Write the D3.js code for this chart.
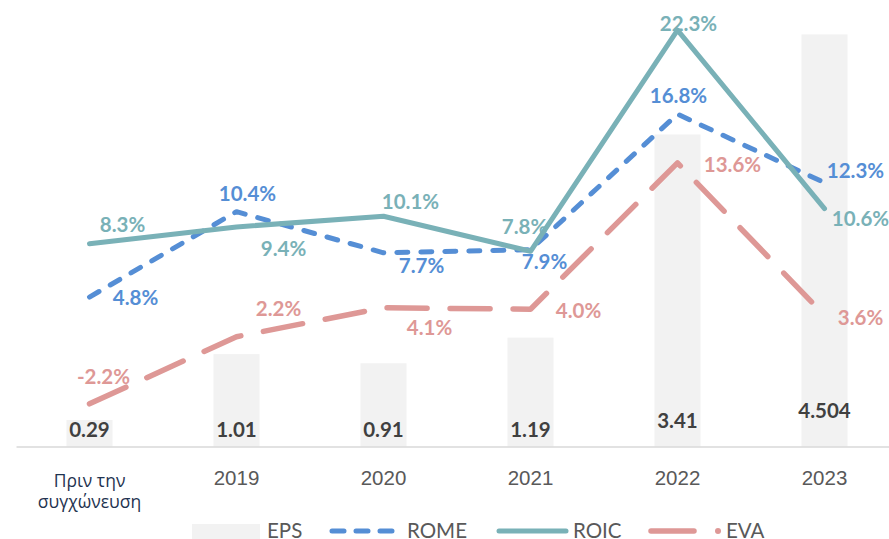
<!DOCTYPE html>
<html>
<head>
<meta charset="utf-8">
<script src="https://cdn.jsdelivr.net/npm/d3@7"></script>
<style>
  body { margin: 0; background: #fff; }
  svg { display: block; font-family: Lato, "Open Sans", sans-serif; }
</style>
</head>
<body>
<div id="chart"></div>
<script>
// data
var categories = ["Πριν την συγχώνευση", "2019", "2020", "2021", "2022", "2023"];
var eps  = [0.29, 1.01, 0.91, 1.19, 3.41, 4.504];
var epsLabels = ["0.29", "1.01", "0.91", "1.19", "3.41", "4.504"];
var rome = [4.8, 10.4, 7.7, 7.9, 16.8, 12.3];
var roic = [8.3, 9.4, 10.1, 7.8, 22.3, 10.6];
var eva  = [-2.2, 2.2, 4.1, 4.0, 13.6, 3.6];

var width = 889, height = 539;
var plotTop = -11, plotBottom = 446.5;

var svg = d3.select("#chart")
  .append("svg")
    .attr("width", width)
    .attr("height", height);

// x scale: one band per category
var x = d3.scaleBand()
  .domain(categories)
  .range([16, 898]);

// EPS on its own axis, percentages on the other
var yEps = d3.scaleLinear().domain([0, 5]).range([plotBottom, plotTop]);
var yPct = d3.scaleLinear().domain([-5, 25]).range([plotBottom, plotTop]);

var cx = function(i) { return x(categories[i]) + x.bandwidth() / 2; };

// Bars
var barW = x.bandwidth() * 0.313;
svg.append("g")
  .selectAll("rect")
  .data(eps)
  .enter()
  .append("rect")
    .attr("x", function(d, i) { return cx(i) - barW / 2; })
    .attr("y", function(d) { return yEps(d); })
    .attr("width", barW)
    .attr("height", function(d) { return plotBottom - yEps(d); })
    .attr("fill", "#F2F2F2");

// category axis
var xAxis = svg.append("g")
  .attr("transform", "translate(0," + plotBottom + ")")
  .call(d3.axisBottom(x).tickSize(0).tickFormat(""));
xAxis.select(".domain").attr("stroke", "#D9D9D9").attr("stroke-width", 1.5);

var catLabels = xAxis.selectAll(".tick")
  .append("text")
    .attr("text-anchor", "middle")
    .attr("fill", "#595959")
    .style("font-size", "20.5px");
catLabels.each(function(d, i) {
  var t = d3.select(this);
  if (i === 0) {
    // two-line Greek label
    t.attr("fill", "#1F3350").style("font-family", "'Open Sans', sans-serif").style("font-size", "17.5px");
    t.append("tspan").attr("x", 0).attr("y", 40.5).text("Πριν την");
    t.append("tspan").attr("x", 0).attr("y", 61.5).text("συγχώνευση");
  } else {
    t.attr("y", 38.5).text(d);
  }
});

// Lines
var series = [
  {name: "ROIC", values: roic, color: "#79B1B7", dash: null, w: 5},
  {name: "ROME", values: rome, color: "#558ED5", dash: "11,13", w: 5},
  {name: "EVA",  values: eva,  color: "#DE9896", dash: "40,23", w: 5.5}
];

var line = d3.line()
  .x(function(d, i) { return cx(i); })
  .y(function(d) { return yPct(d); });

// draw order: EVA, ROME, ROIC on top
[series[2], series[1], series[0]].forEach(function(s) {
  svg.append("path")
    .datum(s.values)
    .attr("fill", "none")
    .attr("stroke", s.color)
    .attr("stroke-width", s.w)
    .attr("stroke-linecap", "round")
    .attr("stroke-linejoin", "round")
    .attr("stroke-dasharray", s.dash)
    .attr("d", line);
});

// Label offsets from each point (dx, dy to text centre)
var labelOffsets = {
  ROIC: [[33, -19], [47, 22], [27, -15], [-6, -25], [11, -7], [36, 10]],
  ROME: [[46, 1], [11, -18], [38, 13], [14, 12], [1, -18], [31, -12]],
  EVA:  [[14, -27], [42, -28], [46, 20], [48, 1], [55, 2], [36, 2]]
};

series.forEach(function(s) {
  svg.append("g")
    .selectAll("text")
    .data(s.values)
    .enter()
    .append("text")
      .attr("x", function(d, i) { return cx(i) + labelOffsets[s.name][i][0]; })
      .attr("y", function(d, i) { return yPct(d) + labelOffsets[s.name][i][1]; })
      .attr("dy", "0.36em")
      .attr("text-anchor", "middle")
      .attr("fill", s.color)
      .style("font-size", "20.5px")
      .style("font-weight", "bold")
      .text(function(d) { return d.toFixed(1) + "%"; });
});

// EPS labels
var epsLabelY = [430, 430, 430, 430, 421, 411];
svg.append("g")
  .selectAll("text")
  .data(epsLabels)
  .enter()
  .append("text")
    .attr("x", function(d, i) { return cx(i); })
    .attr("y", function(d, i) { return epsLabelY[i]; })
    .attr("dy", "0.36em")
    .attr("text-anchor", "middle")
    .attr("fill", "#404040")
    .style("font-size", "20.5px")
    .style("font-weight", "bold")
    .text(function(d) { return d; });

// Legend
var lg = svg.append("g");
var legY = 531, legText = 537.5;
lg.append("rect").attr("x", 192).attr("y", 524).attr("width", 68).attr("height", 20).attr("fill", "#F2F2F2");
lg.append("text").attr("x", 267).attr("y", legText).text("EPS");

lg.append("line").attr("x1", 332).attr("x2", 394).attr("y1", legY).attr("y2", legY)
  .attr("stroke", "#558ED5").attr("stroke-width", 5).attr("stroke-linecap", "round").attr("stroke-dasharray", "12,12");
lg.append("text").attr("x", 407).attr("y", legText).text("ROME");

lg.append("line").attr("x1", 499).attr("x2", 566).attr("y1", legY).attr("y2", legY)
  .attr("stroke", "#79B1B7").attr("stroke-width", 5).attr("stroke-linecap", "round");
lg.append("text").attr("x", 573).attr("y", legText).text("ROIC");

lg.append("line").attr("x1", 651).attr("x2", 694).attr("y1", legY).attr("y2", legY)
  .attr("stroke", "#DE9896").attr("stroke-width", 5.5).attr("stroke-linecap", "round");
lg.append("circle").attr("cx", 718).attr("cy", legY).attr("r", 3).attr("fill", "#DE9896");
lg.append("text").attr("x", 726).attr("y", legText).text("EVA");

lg.selectAll("text").attr("fill", "#595959").style("font-size", "20.5px");
</script>
</body>
</html>
